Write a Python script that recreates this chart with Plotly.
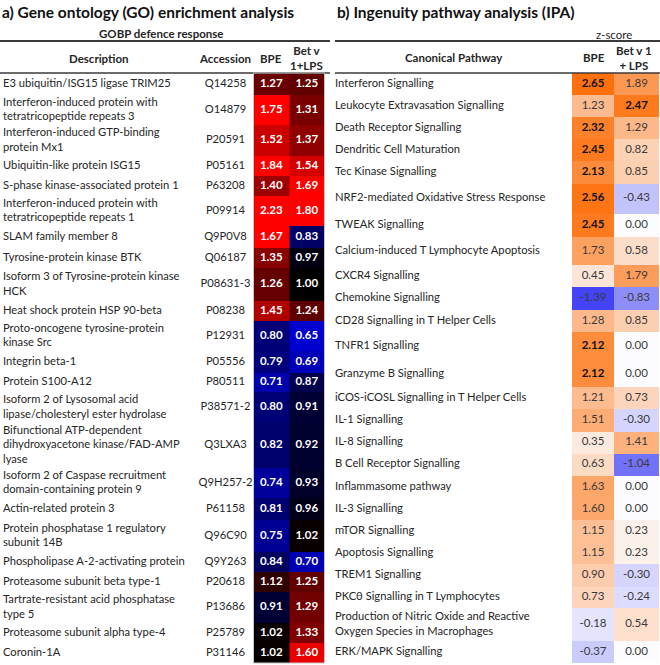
import plotly.graph_objects as go

# ---------------- data ----------------
go_descriptions = [
    "E3 ubiquitin/ISG15 ligase TRIM25",
    "Interferon-induced protein with<br>tetratricopeptide repeats 3",
    "Interferon-induced GTP-binding<br>protein Mx1",
    "Ubiquitin-like protein ISG15",
    "S-phase kinase-associated protein 1",
    "Interferon-induced protein with<br>tetratricopeptide repeats 1",
    "SLAM family member 8",
    "Tyrosine-protein kinase BTK",
    "Isoform 3 of Tyrosine-protein kinase<br>HCK",
    "Heat shock protein HSP 90-beta",
    "Proto-oncogene tyrosine-protein<br>kinase Src",
    "Integrin beta-1",
    "Protein S100-A12",
    "Isoform 2 of Lysosomal acid<br>lipase/cholesteryl ester hydrolase",
    "Bifunctional ATP-dependent<br>dihydroxyacetone kinase/FAD-AMP<br>lyase",
    "Isoform 2 of Caspase recruitment<br>domain-containing protein 9",
    "Actin-related protein 3",
    "Protein phosphatase 1 regulatory<br>subunit 14B",
    "Phospholipase A-2-activating protein",
    "Proteasome subunit beta type-1",
    "Tartrate-resistant acid phosphatase<br>type 5",
    "Proteasome subunit alpha type-4",
    "Coronin-1A",
]
go_accessions = [
    "Q14258", "O14879", "P20591", "P05161", "P63208", "P09914", "Q9P0V8",
    "Q06187", "P08631-3", "P08238", "P12931", "P05556", "P80511", "P38571-2",
    "Q3LXA3", "Q9H257-2", "P61158", "Q96C90", "Q9Y263", "P20618", "P13686",
    "P25789", "P31146",
]
go_bpe = [1.27, 1.75, 1.52, 1.84, 1.40, 2.23, 1.67, 1.35, 1.26, 1.45, 0.80, 0.79,
          0.71, 0.80, 0.82, 0.74, 0.81, 0.75, 0.84, 1.12, 0.91, 1.02, 1.02]
go_betv1 = [1.25, 1.31, 1.37, 1.54, 1.69, 1.80, 0.83, 0.97, 1.00, 1.24, 0.65, 0.69,
            0.87, 0.91, 0.92, 0.93, 0.96, 1.02, 0.70, 1.25, 1.29, 1.33, 1.60]

ipa_pathways = [
    "Interferon Signalling",
    "Leukocyte Extravasation Signalling",
    "Death Receptor Signalling",
    "Dendritic Cell Maturation",
    "Tec Kinase Signalling",
    "NRF2-mediated Oxidative Stress Response",
    "TWEAK Signalling",
    "Calcium-induced T Lymphocyte Apoptosis",
    "CXCR4 Signalling",
    "Chemokine Signalling",
    "CD28 Signalling in T Helper Cells",
    "TNFR1 Signalling",
    "Granzyme B Signalling",
    "iCOS-iCOSL Signalling in T Helper Cells",
    "IL-1 Signalling",
    "IL-8 Signalling",
    "B Cell Receptor Signalling",
    "Inflammasome pathway",
    "IL-3 Signalling",
    "mTOR Signalling",
    "Apoptosis Signalling",
    "TREM1 Signalling",
    "PKCθ Signalling in T Lymphocytes",
    "Production of Nitric Oxide and Reactive<br>Oxygen Species in Macrophages",
    "ERK/MAPK Signalling",
]
ipa_bpe = [2.65, 1.23, 2.32, 2.45, 2.13, 2.56, 2.45, 1.73, 0.45, -1.39, 1.28, 2.12,
           2.12, 1.21, 1.51, 0.35, 0.63, 1.63, 1.60, 1.15, 1.15, 0.90, 0.73, -0.18, -0.37]
ipa_betv1 = [1.89, 2.47, 1.29, 0.82, 0.85, -0.43, 0.00, 0.58, 1.79, -0.83, 0.85, 0.00,
             0.00, 0.73, -0.30, 1.41, -1.04, 0.00, 0.00, 0.23, 0.23, -0.30, -0.24, 0.54, 0.00]

# ---------------- layout constants ----------------
W, H = 660, 665
FONT = "Lato"
TXT = "#262626"
TABLE_TOP = 73
go_row_h = [22, 30, 31, 20, 20, 30, 22, 20, 33, 20, 30, 22, 19, 31, 45, 30, 22, 32, 20, 20, 31, 20, 20]
ipa_row_h = [22, 21.5, 22.5, 22, 22.5, 30, 23, 28.5, 21.5, 23.5, 21.5, 30, 25.5, 21.5, 23,
             22, 22, 22.5, 22, 22, 22, 22.5, 21.5, 33, 22]
go_col_edges = [253.5, 289, 324.5]
ipa_col_edges = [572, 614, 659]


def edges(heights, top):
    e = [top]
    for h in heights:
        e.append(e[-1] + h)
    return e


def centers(e):
    return [(a + b) / 2 for a, b in zip(e[:-1], e[1:])]


go_edges = edges(go_row_h, TABLE_TOP)
ipa_edges = edges(ipa_row_h, TABLE_TOP)
go_cy = centers(go_edges)
ipa_cy = centers(ipa_edges)
go_cx = centers(go_col_edges)
ipa_cx = centers(ipa_col_edges)

fig = go.Figure()

# ---- GO heatmap ----
zmin_go, zmax_go = 0.62, 1.65
mid_go = (1.0 - zmin_go) / (zmax_go - zmin_go)
fig.add_trace(go.Heatmap(
    x=go_col_edges, y=go_edges,
    z=[[a, b] for a, b in zip(go_bpe, go_betv1)],
    zmin=zmin_go, zmax=zmax_go,
    colorscale=[[0, "rgb(0,0,225)"], [mid_go, "rgb(0,0,0)"], [1, "rgb(255,0,0)"]],
    showscale=False, hoverinfo="skip",
))

# ---- IPA heatmap ----
zmin_ipa, zmax_ipa = -1.39, 2.65
mid_ipa = (0 - zmin_ipa) / (zmax_ipa - zmin_ipa)
fig.add_trace(go.Heatmap(
    x=ipa_col_edges, y=ipa_edges,
    z=[[a, b] for a, b in zip(ipa_bpe, ipa_betv1)],
    zmin=zmin_ipa, zmax=zmax_ipa,
    colorscale=[[0, "rgb(68,68,245)"], [mid_ipa, "rgb(252,252,255)"], [1, "rgb(253,112,12)"]],
    showscale=False, hoverinfo="skip",
))

BODY = 11.2

# descriptions
fig.add_trace(go.Scatter(
    x=[3] * len(go_descriptions), y=go_cy, text=go_descriptions, mode="text",
    textposition="middle right", textfont=dict(family=FONT, size=BODY, color=TXT),
    hoverinfo="skip", showlegend=False,
))
fig.add_trace(go.Scatter(
    x=[225.5] * len(go_accessions), y=go_cy, text=go_accessions, mode="text",
    textposition="middle center", textfont=dict(family=FONT, size=BODY, color=TXT),
    hoverinfo="skip", showlegend=False,
))
for cx, vals in zip(go_cx, [go_bpe, go_betv1]):
    fig.add_trace(go.Scatter(
        x=[cx] * len(vals), y=go_cy, text=[f"<b>{v:.2f}</b>" for v in vals], mode="text",
        textposition="middle center", textfont=dict(family=FONT, size=11.5, color="white"),
        hoverinfo="skip", showlegend=False,
    ))

fig.add_trace(go.Scatter(
    x=[335] * len(ipa_pathways), y=ipa_cy, text=ipa_pathways, mode="text",
    textposition="middle right", textfont=dict(family=FONT, size=BODY, color=TXT),
    hoverinfo="skip", showlegend=False,
))
for cx, vals in zip(ipa_cx, [ipa_bpe, ipa_betv1]):
    fig.add_trace(go.Scatter(
        x=[cx] * len(vals), y=ipa_cy,
        text=[f"<b>{v:.2f}</b>" if abs(v) >= 2 else f"{v:.2f}" for v in vals],
        mode="text", textposition="middle center",
        textfont=dict(family=FONT, size=11.5,
                      color=["#111111" if abs(v) >= 2 else "#3a3a3a" for v in vals]),
        hoverinfo="skip", showlegend=False,
    ))

# ---- headers / titles (annotations) ----
def ann(x, y, text, size=11.5, bold=False, xanchor="center", color=TXT):
    fig.add_annotation(x=x, y=y, xref="x", yref="y", text=f"<b>{text}</b>" if bold else text,
                       showarrow=False, xanchor=xanchor, yanchor="middle",
                       font=dict(family=FONT, size=size, color=color))

ann(0, 12, "a) Gene ontology (GO) enrichment analysis", size=15.5, bold=True, xanchor="left", color="#111")
ann(335, 12, "b) Ingenuity pathway analysis (IPA)", size=15.5, bold=True, xanchor="left", color="#111")
ann(161, 33, "GOBP defence response", bold=True)
ann(614, 34, "z-score")
ann(99, 58, "Description", bold=True)
ann(225, 58, "Accession", bold=True)
ann(270.5, 58, "BPE", bold=True)
ann(306, 57.5, "Bet v<br>1+LPS", bold=True)
ann(454, 57.5, "Canonical Pathway", bold=True)
ann(594, 57.5, "BPE", bold=True)
ann(634, 57.5, "Bet v 1<br>+ LPS", bold=True)

# rules
shapes = [
    dict(type="line", x0=0, x1=330, y0=41, y1=41, line=dict(color="#3a3a3a", width=2)),
    dict(type="line", x0=0, x1=330, y0=73, y1=73, line=dict(color="#3a3a3a", width=1.5)),
    dict(type="line", x0=335, x1=660, y0=41, y1=41, line=dict(color="#3a3a3a", width=2)),
    dict(type="line", x0=335, x1=660, y0=73, y1=73, line=dict(color="#3a3a3a", width=1.5)),
    dict(type="rect", x0=go_col_edges[0], x1=go_col_edges[-1], y0=TABLE_TOP, y1=go_edges[-1],
         line=dict(color="#c8c8c8", width=1), layer="above"),
]
for s in shapes:
    s.update(xref="x", yref="y")

fig.update_layout(
    width=W, height=H, margin=dict(l=0, r=0, t=0, b=0),
    paper_bgcolor="white", plot_bgcolor="white", showlegend=False,
    shapes=shapes, hovermode=False,
    xaxis=dict(range=[0, W], visible=False, fixedrange=True),
    yaxis=dict(range=[H, 0], visible=False, fixedrange=True),
)

fig.write_html(
    "out.html",
    config={"displayModeBar": False, "staticPlot": True},
    post_script="document.body.style.margin='0';document.body.style.overflow='hidden';",
)
